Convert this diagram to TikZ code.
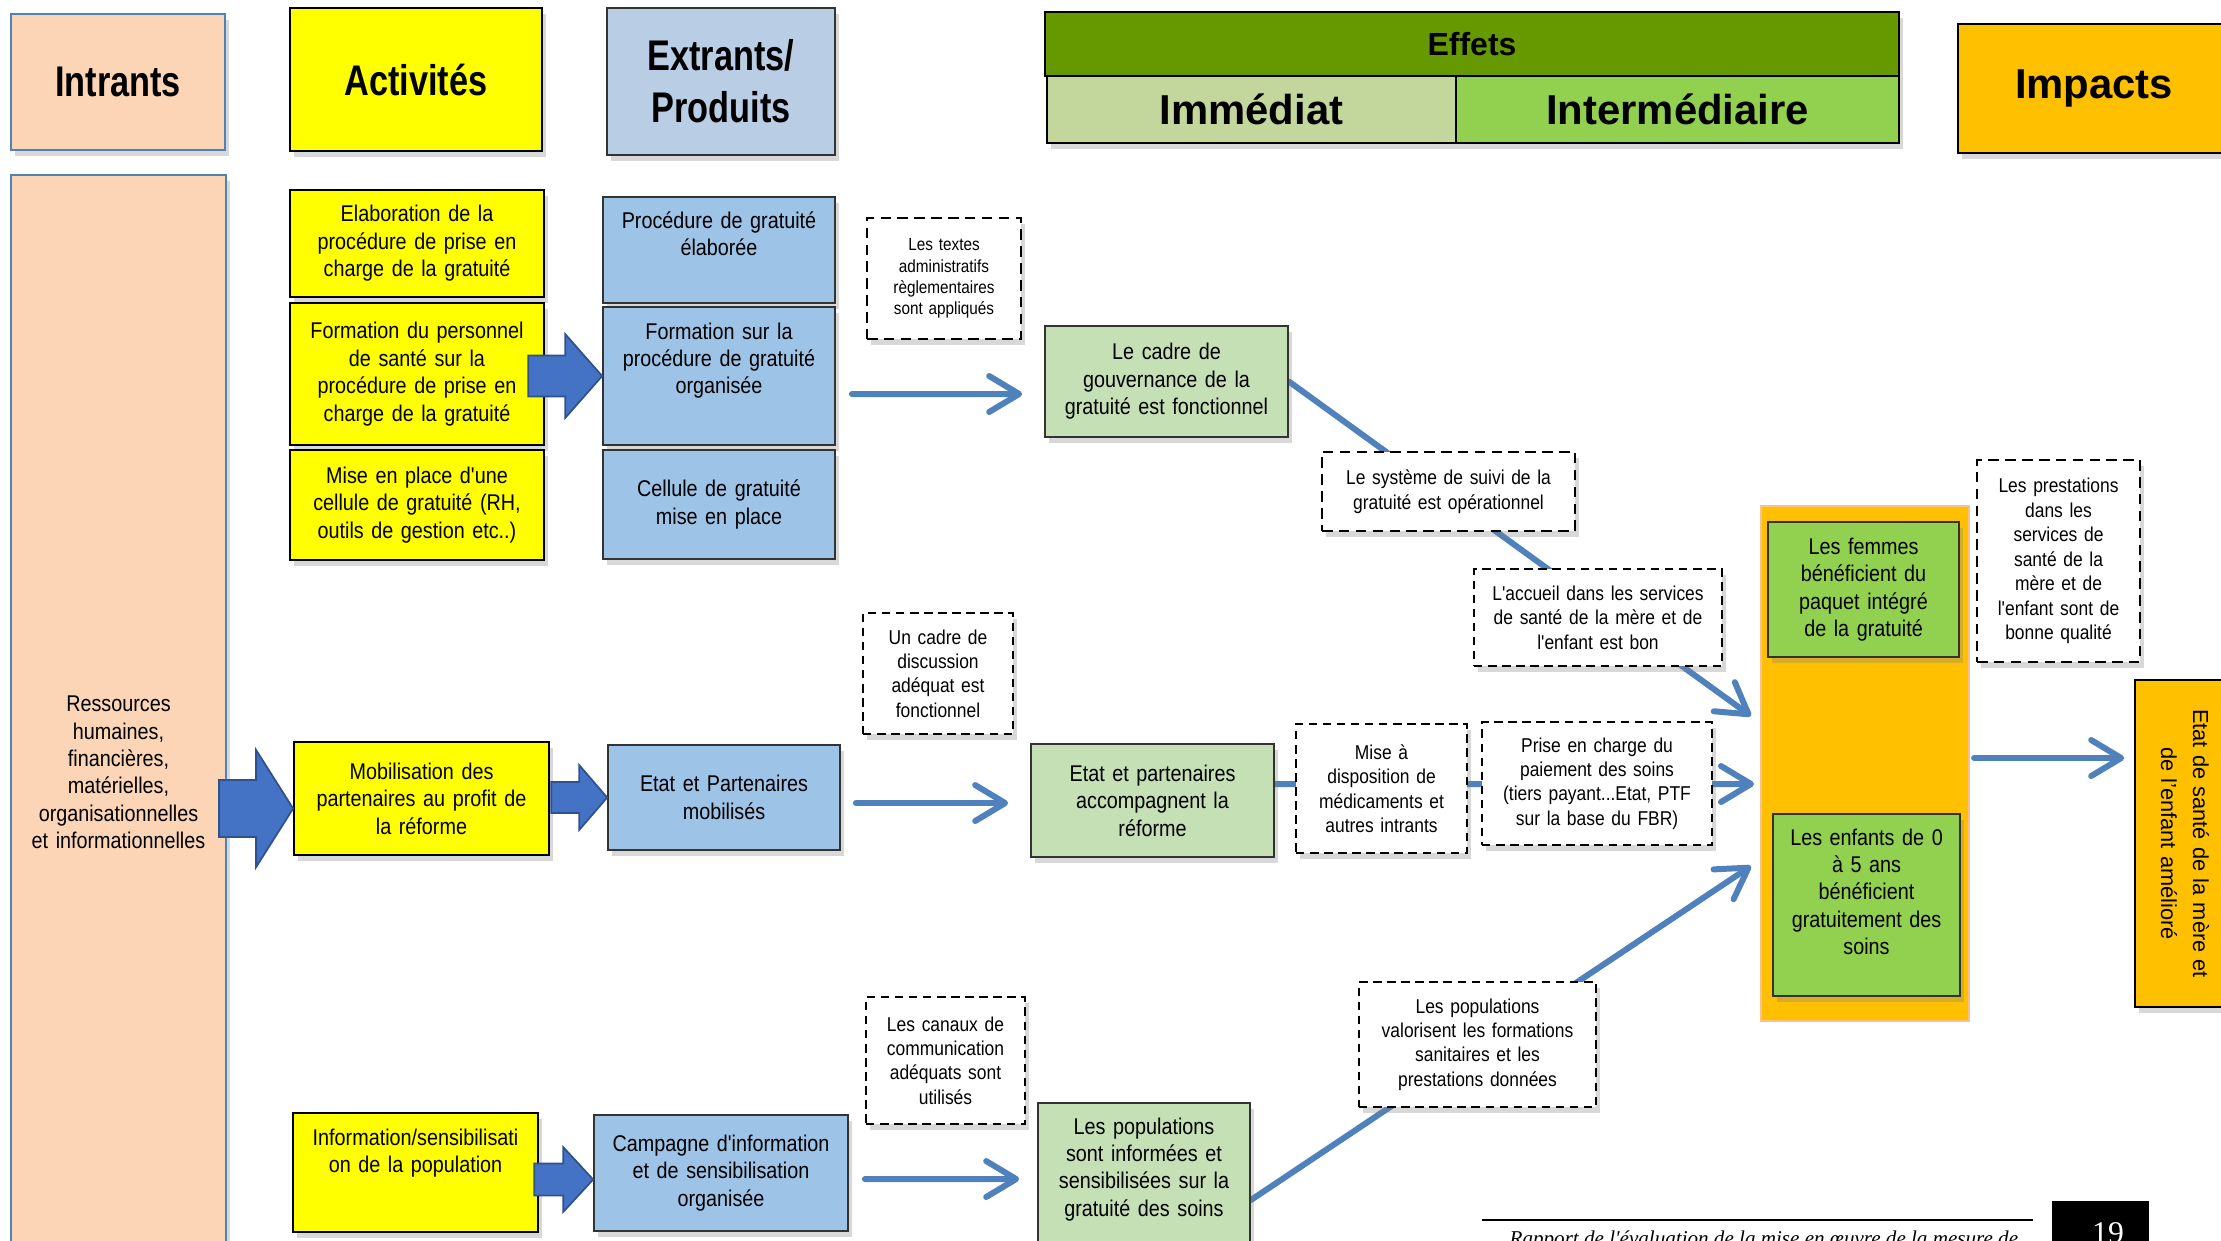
\documentclass[tikz,border=0pt]{standalone}
\usepackage{fontspec}
\setmainfont{Liberation Sans}
\newfontfamily\narrowfam{Liberation Sans}[FakeStretch=0.8]
\newfontfamily\boxfam{Liberation Sans}[FakeStretch=0.87]
\newfontfamily\footfam{Liberation Serif}
\usetikzlibrary{arrows.meta,calc,shadows,backgrounds}

\definecolor{inpfill}{HTML}{FBD5B5}
\definecolor{inpline}{HTML}{4F81BD}
\definecolor{actfill}{HTML}{FFFF00}
\definecolor{headblue}{HTML}{B9CDE5}
\definecolor{prodfill}{HTML}{9DC3E6}
\definecolor{effdark}{HTML}{669900}
\definecolor{immfill}{HTML}{C3D69B}
\definecolor{intfill}{HTML}{92D050}
\definecolor{impfill}{HTML}{FFC000}
\definecolor{efffill}{HTML}{C5E0B4}
\definecolor{zoneline}{HTML}{FAC08F}
\definecolor{arrfill}{HTML}{4472C4}
\definecolor{arrline}{HTML}{2F528F}
\definecolor{linkblue}{HTML}{4F81BD}

\newcommand{\cellfont}{\boxfam\fontsize{6.47}{7.8}\selectfont}
\newcommand{\hypfont}{\boxfam\fontsize{5.7}{6.95}\selectfont}
\newcommand{\tinyhypfont}{\boxfam\fontsize{5.0}{6.1}\selectfont}
\newcommand{\narrowhead}{\narrowfam\bfseries\fontsize{12.2}{14.8}\selectfont}
\newcommand{\widehead}{\bfseries\fontsize{11.9}{14}\selectfont}
\newcommand{\effetsfont}{\bfseries\fontsize{9.1}{11}\selectfont}

\tikzset{
  base/.style={align=center, inner xsep=0.05cm, inner ysep=0.03cm, line width=0.5pt},
  shad/.style={drop shadow={shadow xshift=0.04cm, shadow yshift=-0.06cm, opacity=0.3}},
  head/.style={base, draw=black, shad},
  inp/.style={base, draw=inpline, fill=inpfill, line width=0.6pt, shad, font=\cellfont},
  act/.style={base, draw=black, fill=actfill, shad, font=\cellfont},
  prod/.style={base, draw=black!80, fill=prodfill, shad, font=\cellfont},
  eff/.style={base, draw=black!80, fill=efffill, shad, font=\cellfont},
  res/.style={base, draw=black!80, fill=intfill, shad, font=\cellfont},
  hyp/.style={base, draw=black, fill=white, dash pattern=on 2.4pt off 1.6pt, shad, font=\hypfont},
  hypb/.style={hyp, line width=0.75pt, dash pattern=on 3pt off 1.8pt},
  zonebox/.style={draw=zoneline, fill=impfill, line width=0.6pt},
  link/.style={-{Straight Barb[length=0.3cm,width=0.36cm,round]}, line width=1.7pt, draw=linkblue, line cap=round},
  barrow/.style={fill=arrfill, draw=arrline, line width=0.5pt}
}

\begin{document}
\begin{tikzpicture}[x=1cm,y=1cm]
  \useasboundingbox (0,0) rectangle (22.21,-12.40);
  \clip (0,0) rectangle (22.21,-12.40);

  \node[inp, font=\narrowhead, text width=2.04cm, minimum height=1.36cm] (intr) at (1.18,-0.82) {Intrants};
  \node[act, font=\narrowhead, text width=2.42cm, minimum height=1.43cm] (actv) at (4.16,-0.795) {Activités};
  \node[prod, fill=headblue, font=\narrowhead, text width=2.18cm, minimum height=1.47cm] (extr) at (7.21,-0.815) {Extrants/\\Produits};
  \node[head, fill=effdark, font=\effetsfont, text width=8.44cm, minimum height=0.64cm] (effets) at (14.72,-0.44) {Effets};
  \node[head, fill=immfill, font=\widehead, text width=3.99cm, minimum height=0.67cm] (immed) at (12.515,-1.095) {Immédiat};
  \node[head, fill=intfill, font=\widehead, text width=4.33cm, minimum height=0.67cm] (inter) at (16.775,-1.095) {Intermédiaire};
  \node[head, fill=impfill, font=\widehead, text width=2.62cm, minimum height=1.29cm] (impacts) at (20.94,-0.885) {Impacts};

  \node[inp, text width=2.05cm, minimum height=11.95cm] (ress) at (1.185,-7.725) {Ressources\\humaines,\\financières,\\matérielles,\\organisationnelles\\et informationnelles};

  \node[act, text width=2.44cm, minimum height=1.07cm] (elab) at (4.17,-2.435) {Elaboration de la\\procédure de prise en\\charge de la gratuité};
  \node[act, text width=2.44cm, minimum height=1.42cm] (formp) at (4.17,-3.74) {Formation du personnel\\de santé sur la\\procédure de prise en\\charge de la gratuité};
  \node[act, text width=2.44cm, minimum height=1.10cm] (cellp) at (4.17,-5.05) {Mise en place d'une\\cellule de gratuité (RH,\\outils de gestion etc..)};
  \node[act, text width=2.45cm, minimum height=1.13cm] (mobil) at (4.215,-7.985) {Mobilisation des\\partenaires au profit de\\la réforme};
  \node[act, text width=2.35cm, minimum height=1.19cm, text height=0.17cm, text depth=0.72cm] (info) at (4.155,-11.725) {Information/sensibilisati\\on de la population};

  \node[prod, text width=2.22cm, minimum height=1.06cm, text height=0.17cm, text depth=0.61cm] (proc) at (7.19,-2.5) {Procédure de gratuité\\élaborée};
  \node[prod, text width=2.22cm, minimum height=1.38cm, text height=0.17cm, text depth=0.91cm] (forms) at (7.19,-3.76) {Formation sur la\\procédure de gratuité\\organisée};
  \node[prod, text width=2.22cm, minimum height=1.09cm] (cellg) at (7.19,-5.045) {Cellule de gratuité\\mise en place};
  \node[prod, text width=2.22cm, minimum height=1.05cm] (etatm) at (7.24,-7.975) {Etat et Partenaires\\mobilisés};
  \node[prod, text width=2.44cm, minimum height=1.16cm] (camp) at (7.21,-11.73) {Campagne d'information\\et de sensibilisation\\organisée};

  \node[hypb, font=\tinyhypfont, text width=1.44cm, minimum height=1.21cm] (textes) at (9.44,-2.785) {Les textes\\administratifs\\règlementaires\\sont appliqués};
  \node[eff, text width=2.33cm, minimum height=1.11cm] (gouv) at (11.665,-3.815) {Le cadre de\\gouvernance de la\\gratuité est fonctionnel};
  \node[hypb, text width=2.43cm, minimum height=0.79cm] (suivi) at (14.485,-4.915) {Le système de suivi de la\\gratuité est opérationnel};
  \node[hyp, text width=2.38cm, minimum height=0.97cm] (accueil) at (15.98,-6.175) {L'accueil dans les services\\de santé de la mère et de\\l'enfant est bon};
  \node[hyp, text width=1.40cm, minimum height=1.21cm] (discu) at (9.38,-6.735) {Un cadre de\\discussion\\adéquat est\\fonctionnel};
  \node[eff, text width=2.33cm, minimum height=1.13cm] (accomp) at (11.525,-8.005) {Etat et partenaires\\accompagnent la\\réforme};
  \node[hyp, text width=1.61cm, minimum height=1.29cm] (mise) at (13.815,-7.885) {Mise à\\disposition de\\médicaments et\\autres intrants};
  \node[hyp, text width=2.20cm, minimum height=1.23cm] (prise) at (15.97,-7.835) {Prise en charge du\\paiement des soins\\(tiers payant...Etat, PTF\\sur la base du FBR)};
  \node[hyp, text width=1.49cm, minimum height=1.27cm] (canaux) at (9.455,-10.605) {Les canaux de\\communication\\adéquats sont\\utilisés};
  \node[eff, text width=2.02cm, minimum height=1.57cm, text height=0.17cm, text depth=1.12cm] (popinf) at (11.44,-11.815) {Les populations\\sont informées et\\sensibilisées sur la\\gratuité des soins};
  \node[hyp, text width=2.27cm, minimum height=1.25cm] (valor) at (14.775,-10.445) {Les populations\\valorisent les formations\\sanitaires et les\\prestations données};

  \node[zonebox, minimum width=2.08cm, minimum height=5.15cm] (zone) at (18.65,-7.635) {};
  \node[res, text width=1.81cm, minimum height=1.35cm] (femmes) at (18.635,-5.895) {Les femmes\\bénéficient du\\paquet intégré\\de la gratuité};
  \node[res, text width=1.77cm, minimum height=1.82cm, text height=0.17cm, text depth=1.37cm] (enfants) at (18.665,-9.05) {Les enfants de 0\\à 5 ans\\bénéficient\\gratuitement des\\soins};
  \node[hypb, text width=1.53cm, minimum height=2.02cm] (prest) at (20.585,-5.61) {Les prestations\\dans les\\services de\\santé de la\\mère et de\\l'enfant sont de\\bonne qualité};
  \node[head, fill=impfill, rotate=-90, font=\fontsize{6.2}{9.1}\selectfont, text width=3.17cm, minimum height=1.0cm] (sante) at (21.85,-8.435) {Etat de santé de la mère et\\de l’enfant amélioré};

  \begin{scope}[on background layer]
    \fill[white] (0,0) rectangle (22.21,-12.40);
    \draw[link] (gouv.east) -- ($(zone.west)+(-0.09,0.475)$);
    \draw[link] ($(accomp.east)+(0,0.165)$) -- ($(zone.west)+(-0.06,-0.205)$);
    \draw[link] ($(popinf.east)+(0,-0.185)$) -- ($(zone.west)+(-0.09,-1.025)$);
  \end{scope}

  \draw[link] ($(forms.east)+(0.16,-0.18)$) -- ($(gouv.west)+(-0.22,-0.125)$);
  \draw[link] ($(etatm.east)+(0.15,-0.055)$) -- ($(accomp.west)+(-0.22,-0.025)$);
  \draw[link] ($(camp.east)+(0.16,-0.06)$) -- ($(popinf.west)+(-0.18,0.025)$);
  \draw[link] ($(zone.east)+(0.04,0.055)$) -- ($(sante.south)+(-0.1,0.855)$);

  \draw[barrow] (forms.west) -- ++(-0.37,0.42) -- ++(0,-0.215) -- ++(-0.37,0) -- ++(0,-0.41) -- ++(0.37,0) -- ++(0,-0.215) -- cycle;
  \draw[barrow] ($(mobil.west)+(0,-0.1)$) -- ++(-0.37,0.585) -- ++(0,-0.3) -- ++(-0.37,0) -- ++(0,-0.57) -- ++(0.37,0) -- ++(0,-0.3) -- cycle;
  \draw[barrow] (etatm.west) -- ++(-0.28,0.325) -- ++(0,-0.17) -- ++(-0.28,0) -- ++(0,-0.31) -- ++(0.28,0) -- ++(0,-0.17) -- cycle;
  \draw[barrow] ($(camp.west)+(0,-0.065)$) -- ++(-0.3,0.325) -- ++(0,-0.165) -- ++(-0.29,0) -- ++(0,-0.32) -- ++(0.29,0) -- ++(0,-0.165) -- cycle;

  \draw[line width=0.6pt] (14.82,-12.2) -- (20.33,-12.2);
  \node[anchor=base west, inner sep=0, font=\footfam\itshape\fontsize{6}{7}\selectfont] (rapport) at (15.09,-12.45) {Rapport de l'évaluation de la mise en œuvre de la mesure de};
  \fill[black] (20.52,-12.01) rectangle (21.49,-12.8);
  \node[anchor=base, inner sep=0, text=white, font=\footfam\fontsize{9}{10}\selectfont] (pagenum) at (21.08,-12.43) {19};
\end{tikzpicture}
\end{document}
